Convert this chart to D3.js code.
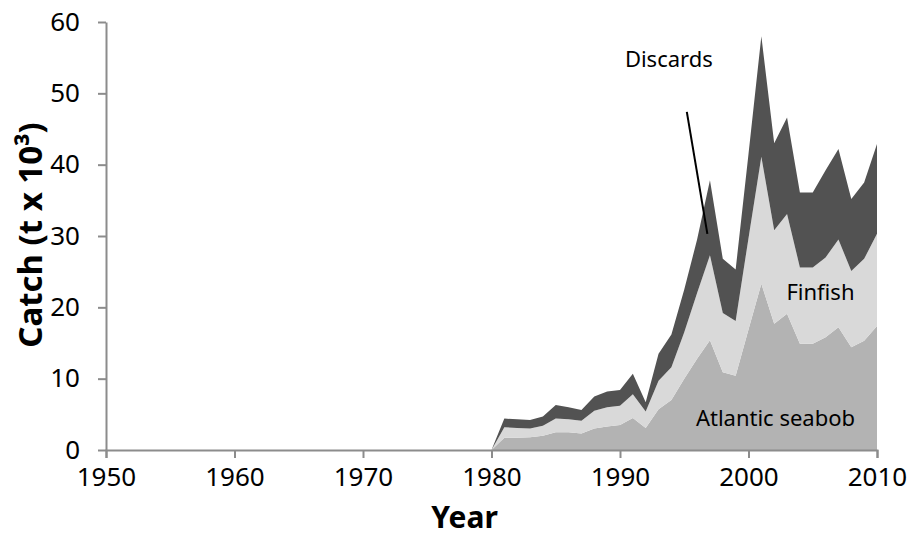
<!DOCTYPE html>
<meta charset="utf-8">
<style>

body {
  margin: 0;
  background: #fff;
}

.axis path,
.axis line {
  stroke: #8c8c8c;
  stroke-width: 2px;
}

.axis text {
  font: 26px "Noto Sans", sans-serif;
  fill: #000;
}

.title {
  font: bold 30px "Noto Sans", sans-serif;
}

.note {
  font: 22px "Noto Sans", sans-serif;
}

</style>
<body>
<script src="https://d3js.org/d3.v7.min.js"></script>
<script>

var width = 911;
var height = 534;
var margin = {top: 22, right: 34, bottom: 84, left: 106};
var innerWidth = width - margin.left - margin.right;
var innerHeight = height - margin.top - margin.bottom;

// catch by component, thousand tonnes
var years = [1980, 1981, 1982, 1983, 1984, 1985, 1986, 1987, 1988, 1989,
  1990, 1991, 1992, 1993, 1994, 1995, 1996, 1997, 1998, 1999,
  2000, 2001, 2002, 2003, 2004, 2005, 2006, 2007, 2008, 2009, 2010];

var seabob = [0, 1.7, 1.7, 1.8, 2.0, 2.5, 2.5, 2.3, 3.0, 3.3,
  3.5, 4.5, 3.1, 5.7, 7.0, 10.0, 12.8, 15.4, 10.9, 10.4,
  16.9, 23.3, 17.7, 19.1, 14.9, 14.9, 15.8, 17.2, 14.4, 15.3, 17.4];

var finfish = [0, 1.5, 1.4, 1.2, 1.4, 1.9, 1.8, 1.8, 2.5, 2.7,
  2.7, 3.3, 2.3, 4.0, 4.6, 6.5, 9.2, 11.9, 8.3, 7.7,
  12.8, 17.8, 13.1, 14.0, 10.7, 10.7, 11.2, 12.3, 10.7, 11.5, 12.9];

var discards = [0, 1.2, 1.2, 1.2, 1.3, 1.9, 1.7, 1.5, 2.0, 2.2,
  2.2, 2.9, 1.3, 3.8, 4.6, 6.0, 7.5, 10.5, 7.6, 7.2,
  11.8, 16.9, 12.2, 13.5, 10.5, 10.5, 12.2, 12.7, 10.1, 10.7, 12.6];

var xTicks = [1950, 1960, 1970, 1980, 1990, 2000, 2010];
var yTicks = [0, 10, 20, 30, 40, 50, 60];

var keys = ["seabob", "finfish", "discards"];
var colors = {seabob: "#b3b3b3", finfish: "#d9d9d9", discards: "#525252"};

var table = years.map((y, i) => ({
  year: y, seabob: seabob[i], finfish: finfish[i], discards: discards[i]
}));

var xScale = d3.scaleLinear()
    .domain([1950, 2010])
    .range([0, innerWidth]);

var yScale = d3.scaleLinear()
    .domain([0, 60])
    .range([innerHeight, 0]);

var stack = d3.stack().keys(keys);

var area = d3.area()
    .x(d => xScale(d.data.year))
    .y0(d => yScale(d[0]))
    .y1(d => yScale(d[1]));

var svg = d3.select("body").append("svg")
    .attr("width", width)
    .attr("height", height)
  .append("g")
    .attr("transform", `translate(${margin.left}, ${margin.top})`);

svg.selectAll(".layer")
    .data(stack(table))
  .enter().append("path")
    .attr("class", "layer")
    .attr("d", area)
    .attr("fill", d => colors[d.key]);

svg.append("g")
    .attr("class", "axis")
    .attr("transform", `translate(0, ${innerHeight})`)
    .call(d3.axisBottom(xScale).tickValues(xTicks).tickFormat(d3.format("d"))
      .tickSizeInner(8).tickSizeOuter(8).tickPadding(10));

svg.append("g")
    .attr("class", "axis")
    .call(d3.axisLeft(yScale).tickValues(yTicks)
      .tickSizeInner(8).tickSizeOuter(0).tickPadding(18));

// axis titles
svg.append("text")
    .attr("class", "title")
    .attr("x", xScale(1977.9))
    .attr("y", innerHeight + 78)
    .attr("text-anchor", "middle")
    .text("Year");

svg.append("text")
    .attr("class", "title")
    .style("font-size", "33px")
    .attr("transform", `translate(${-64}, ${innerHeight / 2 - 1}) rotate(-90)`)
    .attr("text-anchor", "middle")
    .text("Catch (t x 10³)");

// labels inside the areas
svg.append("text")
    .attr("class", "note")
    .attr("x", xScale(2002.1))
    .attr("y", yScale(3.3))
    .attr("text-anchor", "middle")
    .text("Atlantic seabob");

svg.append("text")
    .attr("class", "note")
    .attr("x", xScale(2005.6))
    .attr("y", yScale(21))
    .attr("text-anchor", "middle")
    .text("Finfish");

svg.append("text")
    .attr("class", "note")
    .attr("x", xScale(1993.8))
    .attr("y", yScale(53.7))
    .attr("text-anchor", "middle")
    .text("Discards");

svg.append("line")
    .attr("x1", xScale(1995.2))
    .attr("y1", yScale(47.4))
    .attr("x2", xScale(1996.8))
    .attr("y2", yScale(30.3))
    .attr("stroke", "#000")
    .attr("stroke-width", 2);

</script>
